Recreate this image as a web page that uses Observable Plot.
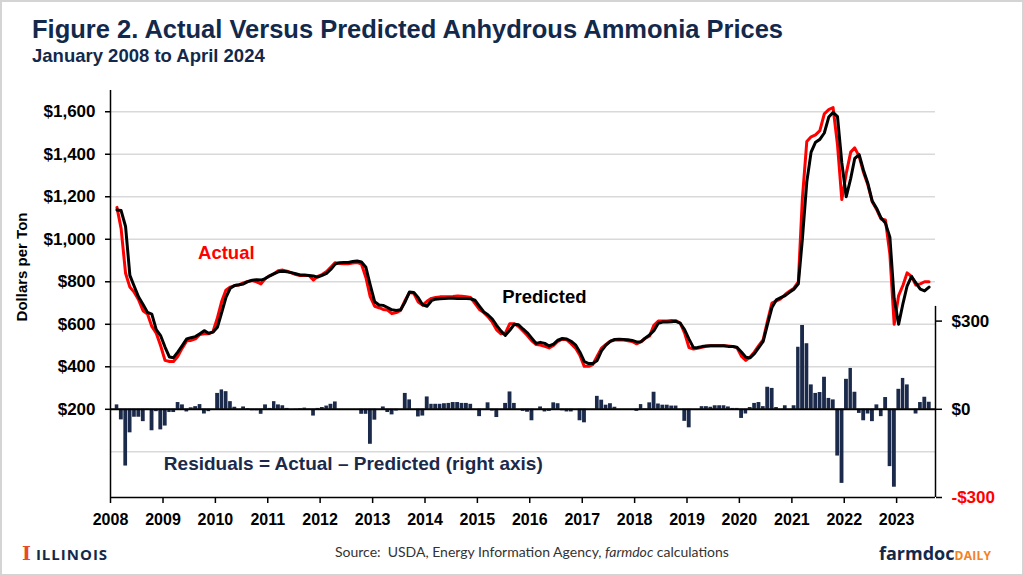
<!DOCTYPE html>
<html><head><meta charset="utf-8">
<script src="https://cdn.jsdelivr.net/npm/d3@7"></script>
<script src="https://cdn.jsdelivr.net/npm/@observablehq/plot@0.6"></script>
<style>
html,body{margin:0;padding:0;background:#fff;}
#page{position:relative;width:1024px;height:576px;overflow:hidden;font-family:"Liberation Sans",Arial,sans-serif;background:#fff;}
#border{position:absolute;left:0;top:0;width:1024px;height:576px;box-sizing:border-box;border:2px solid #d4d4d4;pointer-events:none;z-index:5;}
#head{height:80px;position:relative;}
#title{position:absolute;left:32px;top:17px;font-size:25.5px;line-height:1;font-weight:bold;color:#13294b;white-space:nowrap;}
#subtitle{position:absolute;left:32px;top:47px;font-size:18.5px;line-height:1;font-weight:bold;color:#13294b;white-space:nowrap;}
#chart{height:455px;position:relative;}
#chart svg{display:block;}
#foot{height:41px;position:relative;}
#logo{position:absolute;left:22px;top:9px;line-height:1;white-space:nowrap;color:#13294b;font-weight:bold;font-size:15px;letter-spacing:1px;font-family:"Open Sans","Liberation Sans",sans-serif;}
#logo .i{color:#e84a27;font-family:"DejaVu Serif",serif;font-size:19px;font-weight:bold;margin-right:5px;letter-spacing:0;}
#source{position:absolute;left:335px;top:10px;font-size:14px;line-height:1;color:#333;white-space:nowrap;font-family:Lato,"Liberation Sans",sans-serif;}
#brand{position:absolute;left:879px;top:9px;line-height:1;white-space:nowrap;font-family:"Open Sans","Liberation Sans",sans-serif;font-weight:bold;}
#brand .f{color:#13294b;font-size:18px;}
#brand .d{color:#f58025;font-size:12px;letter-spacing:0.3px;}
</style>
</head><body>
<div id="page">
  <div id="border"></div>
  <div id="head">
    <div id="title">Figure 2. Actual Versus Predicted Anhydrous Ammonia Prices</div>
    <div id="subtitle">January 2008 to April 2024</div>
  </div>
  <div id="chart"></div>
  <div id="foot">
    <div id="logo"><span class="i">I</span>ILLINOIS</div>
    <div id="source">Source:&nbsp; USDA, Energy Information Agency, <i>farmdoc</i> calculations</div>
    <div id="brand"><span class="f">farmdoc</span><span class="d">DAILY</span></div>
  </div>
</div>
<script>
// ---- data (monthly, first month Feb 2008, last month Aug 2023) ----
const firstMonth = "2008-02-01";
const lastMonthExclusive = "2023-09-01";

const actual = [
 1150,1050,840,775,750,715,664,648,590,558,500,430,425,425,450,488,522,524,531,552,555,555,565,630,710,760,775,782,785,795,802,806,800,790,815,828,838,852,855,850,842,834,830,830,830,808,825,
 834,848,868,890,886,885,885,888,891,883,820,730,685,678,670,667,650,655,665,712,750,746,705,690,708,722,726,729,729,730,731,733,732,730,726,698,670,655,636,610,574,555,558,603,603,590,568,
 547,522,505,502,496,489,500,520,530,527,509,488,455,402,402,410,450,488,505,520,526,526,526,522,519,508,518,533,545,595,615,616,616,618,617,605,560,490,484,487,492,497,499,499,499,499,498,
 496,490,450,430,445,470,500,528,615,700,710,720,740,756,770,800,1190,1460,1482,1491,1511,1590,1610,1620,1444,1187,1310,1410,1430,1390,1315,1255,1177,1140,1095,1091,930,600,735,785,842,825,785,790,800,800
];

const predicted = [
 1138,1135,1060,830,778,728,693,656,648,575,547,493,446,443,470,500,531,537,542,556,570,558,563,586,658,725,770,783,786,790,801,807,810,808,815,828,838,847,850,847,843,838,832,832,830,827,822,
 830,840,858,883,890,891,891,895,898,893,868,785,706,691,689,679,668,665,668,705,752,750,725,692,685,711,718,720,721,722,722,721,721,721,720,713,685,658,645,625,595,568,548,572,600,598,578,
 560,535,510,515,510,498,507,525,533,531,520,503,470,425,415,415,430,475,502,520,529,530,529,527,524,517,518,535,550,570,605,611,611,612,614,605,575,530,490,491,495,498,499,499,499,499,496,
 495,492,470,445,442,462,490,520,600,679,715,725,735,750,765,790,1000,1270,1410,1457,1470,1500,1575,1597,1577,1360,1200,1286,1380,1398,1325,1262,1180,1145,1100,1076,1010,720,600,700,780,825,795,765,757,775
];

const residual = [
 15,-36,-193,-80,-27,-27,-42,-3,-73,-8,-70,-57,-11,-11,23,15,-9,5,9,16,-16,-8,0,54,66,60,26,7,0,8,2,-5,-5,-17,15,3,26,15,12,3,0,-2,2,4,1,-23,3,
 6,11,17,25,0,0,0,0,0,-17,-17,-119,-37,0,8,-11,-19,-6,0,54,32,0,-26,-23,42,17,17,17,19,20,23,23,20,20,17,0,-25,0,22,-6,-28,0,20,59,20,0,-7,
 -10,-39,0,8,-9,-7,22,19,-5,-9,-9,0,-39,-46,0,0,44,31,14,19,7,0,0,0,0,-7,16,1,22,58,18,14,14,11,11,0,-41,-63,0,0,9,9,7,12,12,12,8,
 3,3,-31,-16,6,20,23,9,75,71,6,0,12,0,12,211,285,223,83,54,57,109,37,32,-159,-252,102,139,58,-14,-39,-16,-42,15,-25,40,-195,-265,68,105,83,0,-16,23,41,24
];

const years = [2008,2009,2010,2011,2012,2013,2014,2015,2016,2017,2018,2019,2020,2021,2022,2023];
const leftTicks = [200,400,600,800,1000,1200,1400,1600];
const gridValues = [0,200,400,600,800,1000,1200,1400,1600];
const rightTicksPos = [300, 0];
const rightTicksNeg = [-300];
const leftDomain = [-215, 1700];
const rightDomain = [-300, 350];
const xDomain = ["2008-01-01", "2023-09-29"];

const notes = [
  {text: "Actual", date: "2009-09-02", value: 933, color: "#ff0000", size: 18.5},
  {text: "Predicted", date: "2015-06-23", value: 729, color: "#000000", size: 18.5},
  {text: "Residuals = Actual \u2013 Predicted (right axis)", date: "2009-01-07", value: -58, color: "#1b2a4a", size: 19}
];

// residual axis ($0 sits on $200 of the left axis; -$300 at the bottom)
const k = (200 - leftDomain[0]) / 300;
const toLeft = r => 200 + r * k;
const fromLeft = v => Math.round((v - 200) / k);
const fmtR = r => (r < 0 ? "-$" : "$") + d3.format(",")(Math.abs(r));

const months = d3.utcMonth.range(new Date(firstMonth), new Date(lastMonthExclusive));
const rows = months.map((m, i) => ({
  start: m,
  end: d3.utcMonth.offset(m, 1),
  date: d3.utcDay.offset(m, 14),
  actual: actual[i],
  predicted: predicted[i],
  residual: residual[i]
}));

const xStart = new Date(xDomain[0]);
const xEnd = new Date(xDomain[1]);
const navy = "#1b2a4a";

const chart = Plot.plot({
  width: 1024,
  height: 455,
  marginLeft: 110,
  marginRight: 89,
  marginTop: 10,
  marginBottom: 38,
  style: {fontFamily: "'Liberation Sans', Arial, sans-serif", fontWeight: "bold", color: "#000", background: "transparent", overflow: "visible"},
  x: {type: "utc", domain: [xStart, xEnd]},
  y: {domain: leftDomain},
  marks: [
    Plot.gridY(gridValues, {stroke: "#d9d9d9", strokeOpacity: 1, strokeWidth: 1.5}),
    Plot.rect(rows, {x1: "start", x2: "end", y1: () => toLeft(0), y2: d => toLeft(d.residual), fill: navy, insetLeft: 0.3, insetRight: 0.3}),
    Plot.ruleY([toLeft(0)], {stroke: "#000", strokeWidth: 2}),
    Plot.ruleY([leftDomain[0]], {stroke: "#000", strokeWidth: 1.5}),
    Plot.ruleX([xStart], {stroke: "#000", strokeWidth: 1.5}),
    Plot.ruleX([xEnd], {y1: toLeft(rightDomain[0]), y2: toLeft(rightDomain[1]), stroke: "#000", strokeWidth: 1.5}),
    Plot.axisY(leftTicks, {tickFormat: d => "$" + d3.format(",")(d), tickSize: 5, tickPadding: 10, label: null, fontSize: 17, strokeWidth: 1.5}),
    Plot.axisY(rightTicksPos.map(toLeft), {anchor: "right", tickFormat: d => fmtR(fromLeft(d)), tickSize: 6, tickPadding: 10, label: null, fontSize: 17, strokeWidth: 1.5}),
    Plot.axisY(rightTicksNeg.map(toLeft), {anchor: "right", tickFormat: d => fmtR(fromLeft(d)), tickSize: 6, tickPadding: 10, label: null, fontSize: 17, fill: "#ff0000", stroke: "#000", strokeWidth: 1.5}),
    Plot.axisX(years.map(y => new Date(Date.UTC(y, 0, 1))), {tickFormat: d3.utcFormat("%Y"), tickSize: 6, tickPadding: 10, label: null, fontSize: 16, strokeWidth: 1.5}),
    Plot.line(rows, {x: "date", y: "actual", stroke: "#ff0000", strokeWidth: 3, strokeLinejoin: "round"}),
    Plot.line(rows, {x: "date", y: "predicted", stroke: "#000000", strokeWidth: 3, strokeLinejoin: "round"}),
    ...notes.map(n => Plot.text([n], {x: d => new Date(d.date), y: "value", text: "text", fill: n.color, fontSize: n.size, fontWeight: "bold", textAnchor: "start"}))
  ]
});

d3.select(chart).append("text")
  .attr("transform", "translate(27,187) rotate(-90)")
  .attr("text-anchor", "middle")
  .attr("font-size", 15)
  .attr("font-weight", "bold")
  .attr("fill", "#000")
  .text("Dollars per Ton");

document.getElementById("chart").appendChild(chart);
</script>
</body></html>
